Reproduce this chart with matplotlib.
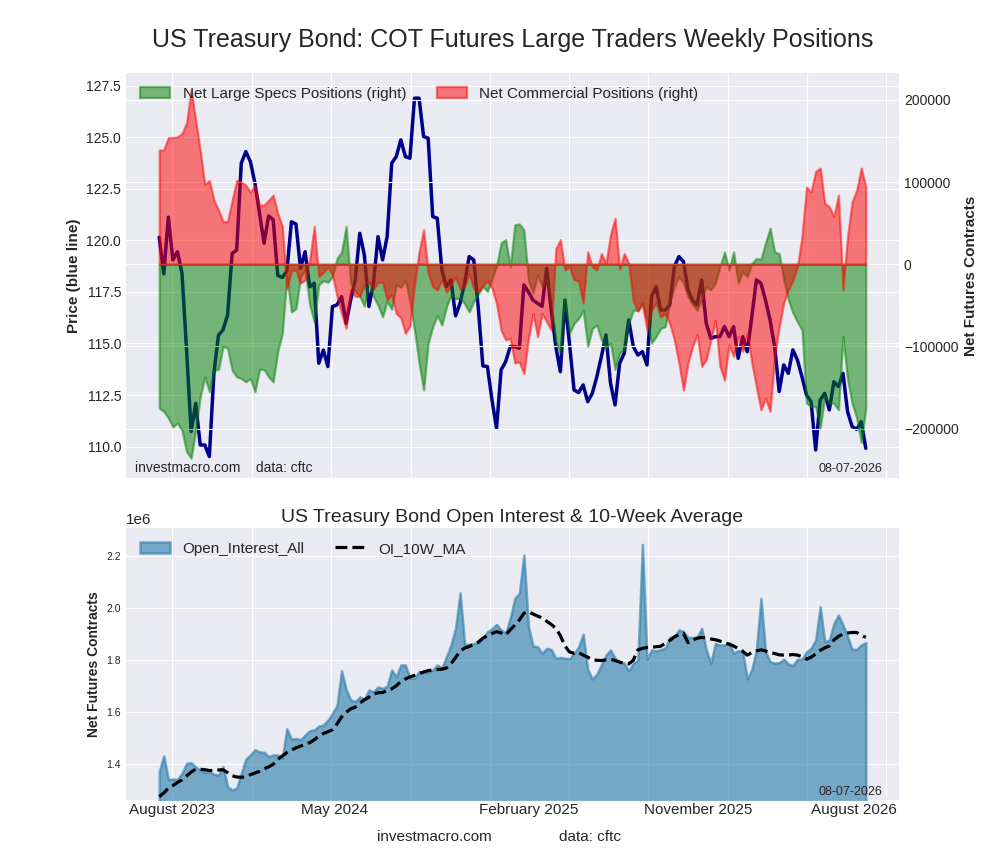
import matplotlib
matplotlib.use('Agg')
import matplotlib.pyplot as plt
import pandas as pd

# ---------------- data ----------------
start_date = '2023-07-12'
n_weeks = 156

price = [120.15, 118.37, 121.12, 119.05, 119.45, 118.40, 114.69, 110.73, 112.10, 110.08,
         110.08, 109.52, 113.56, 115.41, 115.66, 116.38, 119.37, 119.53, 123.74, 124.30,
         123.82, 122.77, 121.31, 119.86, 121.18, 121.00, 118.30, 118.20, 118.50, 120.90,
         120.79, 118.64, 119.45, 117.75, 117.92, 114.04, 114.68, 113.88, 116.79, 116.87,
         117.27, 115.98, 117.11, 118.08, 120.34, 119.29, 116.79, 117.92, 120.18, 119.05,
         120.18, 123.74, 124.06, 124.87, 124.06, 123.98, 126.89, 126.89, 125.03, 124.95,
         121.15, 121.07, 118.57, 117.76, 118.08, 116.34, 116.95, 117.92, 119.21, 119.05,
         116.71, 113.91, 113.88, 112.26, 110.89, 113.72, 114.12, 114.85, 114.85, 114.77,
         117.84, 117.50, 117.10, 116.95, 116.80, 118.64, 116.62, 114.85, 113.63, 117.10,
         115.00, 112.75, 112.62, 112.99, 112.18, 112.58, 113.39, 114.36, 115.41, 113.07,
         112.02, 114.04, 114.52, 116.14, 114.85, 114.44, 114.60, 113.96, 117.27, 117.75,
         116.62, 116.62, 116.87, 118.72, 119.21, 118.97, 117.59, 117.08, 116.87, 118.08,
         115.98, 115.25, 115.33, 115.33, 115.82, 115.33, 115.82, 114.28, 115.33, 114.60,
         116.30, 118.08, 117.92, 117.10, 116.14, 114.85, 112.67, 113.96, 113.55, 114.69,
         114.20, 113.39, 112.50, 112.18, 109.84, 112.26, 112.58, 111.78, 113.15, 112.91,
         113.55, 111.70, 110.97, 110.84, 111.21, 109.92]

net_large_specs = [-175000, -179000, -187000, -198000, -193000, -202000, -228000, -236000, -202000, -161000,
                   -137000, -155000, -129000, -128000, -100000, -102000, -129000, -137000, -139000, -143000,
                   -139000, -155000, -128000, -128000, -137000, -143000, -106000, -84000, -15000, -58000,
                   -54000, -15000, -7000, -49000, -70000, -25000, -20000, -22000, -15000, 7000,
                   15000, 46000, -23000, -33000, -39000, -51000, -23000, -39000, -50000, -64000,
                   -45000, -55000, -25000, -28000, -20000, -45000, -80000, -120000, -153000, -96000,
                   -76000, -62000, -74000, -52000, -37000, -42000, -41000, -48000, -58000, -45000,
                   -36000, -27000, -33000, -18000, -2000, 26000, 30000, -3000, 48000, 49000,
                   42000, -20000, -35000, -13000, -27000, -19000, -47000, -94000, -108000, -43000,
                   -84000, -72000, -66000, -56000, -100000, -78000, -74000, -92000, -102000, -96000,
                   -128000, -108000, -104000, -72000, -56000, -56000, -47000, -68000, -96000, -88000,
                   -78000, -76000, -47000, -27000, -15000, -23000, -39000, -49000, -56000, -43000,
                   -27000, -31000, -23000, -3000, 15000, -7000, 15000, -23000, -9000, -15000,
                   1000, 7000, 6000, 26000, 44000, 15000, 13000, -19000, -43000, -59000,
                   -70000, -80000, -169000, -173000, -173000, -199000, -161000, -169000, -169000, -177000,
                   -88000, -140000, -169000, -187000, -217000, -175000]

net_commercial = [139000, 139000, 154000, 154000, 155000, 159000, 172000, 212000, 175000, 138000,
                  97000, 102000, 78000, 66000, 52000, 52000, 78000, 102000, 100000, 96000,
                  88000, 96000, 72000, 72000, 78000, 84000, 62000, 46000, -30000, -8000,
                  -7000, -23000, -19000, 5000, 46000, -15000, -10000, -3000, -13000, -39000,
                  -60000, -78000, -31000, -39000, -39000, -25000, -21000, -30000, -22000, -22000,
                  -43000, -37000, -60000, -65000, -84000, -75000, -25000, 15000, 42000, -11000,
                  -27000, -31000, -19000, -34000, -25000, -15000, -30000, -27000, -11000, -30000,
                  -34000, -26000, -20000, -29000, -48000, -80000, -92000, -90000, -120000, -119000,
                  -133000, -90000, -60000, -88000, -60000, -70000, -80000, 19000, 30000, -7000,
                  -3000, -19000, -20000, -47000, 15000, -3000, -7000, 13000, 1000, 36000,
                  56000, -6000, 13000, 1000, -45000, -57000, -49000, -80000, -56000, -47000,
                  -64000, -60000, -72000, -92000, -120000, -153000, -120000, -100000, -85000, -124000,
                  -116000, -92000, -68000, -124000, -141000, -98000, -112000, -88000, -106000, -84000,
                  -120000, -149000, -177000, -163000, -179000, -112000, -76000, -47000, -31000, -20000,
                  -3000, 34000, 94000, 88000, 113000, 117000, 74000, 70000, 58000, 84000,
                  -31000, 34000, 76000, 90000, 117000, 94000]

open_interest = [1372000, 1432000, 1342000, 1343000, 1342000, 1365000, 1404000, 1406000, 1390000, 1378000,
                 1368000, 1372000, 1362000, 1358000, 1391000, 1314000, 1301000, 1308000, 1365000, 1420000,
                 1436000, 1456000, 1448000, 1446000, 1430000, 1436000, 1436000, 1424000, 1537000, 1496000,
                 1500000, 1494000, 1513000, 1529000, 1532000, 1547000, 1551000, 1570000, 1596000, 1626000,
                 1760000, 1688000, 1647000, 1641000, 1659000, 1651000, 1686000, 1679000, 1698000, 1692000,
                 1700000, 1763000, 1737000, 1782000, 1782000, 1731000, 1731000, 1757000, 1753000, 1753000,
                 1763000, 1782000, 1770000, 1814000, 1859000, 1923000, 2060000, 1861000, 1861000, 1865000,
                 1867000, 1885000, 1910000, 1922000, 1938000, 1917000, 1904000, 1962000, 2038000, 2058000,
                 2205000, 1929000, 1855000, 1852000, 1827000, 1846000, 1842000, 1808000, 1811000, 1808000,
                 1806000, 1827000, 1852000, 1900000, 1765000, 1728000, 1747000, 1782000, 1820000, 1840000,
                 1808000, 1795000, 1789000, 1759000, 1789000, 1801000, 2246000, 1804000, 1840000, 1836000,
                 1842000, 1846000, 1888000, 1891000, 1917000, 1911000, 1888000, 1888000, 1888000, 1923000,
                 1840000, 1789000, 1865000, 1859000, 1859000, 1868000, 1827000, 1837000, 1833000, 1728000,
                 1765000, 1840000, 2038000, 1833000, 1795000, 1789000, 1791000, 1804000, 1786000, 1780000,
                 1804000, 1804000, 1833000, 1846000, 1878000, 2006000, 1871000, 1878000, 1942000, 1974000,
                 1936000, 1891000, 1842000, 1842000, 1859000, 1868000]

oi_10w_ma = [1275000, 1290000, 1308000, 1318000, 1330000, 1340000, 1355000, 1370000, 1381000, 1381000,
             1379000, 1376000, 1376000, 1378000, 1379000, 1368000, 1356000, 1351000, 1350000, 1352000,
             1360000, 1366000, 1373000, 1382000, 1390000, 1400000, 1418000, 1432000, 1445000, 1455000,
             1463000, 1470000, 1477000, 1483000, 1494000, 1508000, 1518000, 1525000, 1533000, 1555000,
             1582000, 1600000, 1613000, 1620000, 1635000, 1648000, 1658000, 1670000, 1675000, 1676000,
             1683000, 1690000, 1702000, 1718000, 1728000, 1736000, 1742000, 1748000, 1755000, 1760000,
             1763000, 1764000, 1766000, 1770000, 1786000, 1810000, 1835000, 1847000, 1853000, 1862000,
             1870000, 1885000, 1895000, 1903000, 1910000, 1905000, 1898000, 1917000, 1935000, 1955000,
             1981000, 1987000, 1978000, 1970000, 1963000, 1950000, 1938000, 1923000, 1895000, 1855000,
             1832000, 1827000, 1830000, 1820000, 1812000, 1802000, 1800000, 1799000, 1802000, 1804000,
             1799000, 1793000, 1789000, 1786000, 1800000, 1840000, 1846000, 1849000, 1850000, 1852000,
             1854000, 1865000, 1876000, 1890000, 1898000, 1904000, 1868000, 1878000, 1885000, 1888000,
             1886000, 1882000, 1879000, 1874000, 1868000, 1862000, 1855000, 1845000, 1835000, 1820000,
             1830000, 1836000, 1840000, 1836000, 1830000, 1826000, 1821000, 1820000, 1820000, 1822000,
             1820000, 1814000, 1804000, 1812000, 1824000, 1838000, 1848000, 1855000, 1878000, 1892000,
             1901000, 1905000, 1907000, 1907000, 1896000, 1888000]

price_ticks = [110.0, 112.5, 115.0, 117.5, 120.0, 122.5, 125.0, 127.5]
position_ticks = [-200000, -100000, 0, 100000, 200000]
oi_ticks = [1400000, 1600000, 1800000, 2000000, 2200000]
label_dates = ['2023-08-01', '2024-04-06', '2025-01-29', '2025-10-17', '2026-06-13']
label_texts = ['August 2023', 'May 2024', 'February 2025', 'November 2025', 'August 2026']
report_date = '08-07-2026'

# ---------------- figure ----------------
plt.style.use('seaborn-v0_8-darkgrid')
plt.rcParams['font.family'] = ['Liberation Sans', 'DejaVu Sans']

dates = pd.date_range(start_date, periods=n_weeks, freq='7D')
grid_dates = pd.date_range('2023-08-01', '2026-08-01', freq='4MS')
xlim = (dates[0] - pd.Timedelta(days=51), dates[-1] + pd.Timedelta(days=51))

fig = plt.figure(figsize=(10, 8.6), dpi=100)
ax1 = fig.add_axes([0.126, 0.4442, 0.773, 0.4709])
ax2 = ax1.twinx()
ax3 = fig.add_axes([0.126, 0.0698, 0.773, 0.3163])

# top chart
ax1.plot(dates, price, color='darkblue', lw=2.5)
ax2.fill_between(dates, net_large_specs, 0, color='green', alpha=0.5, lw=1.6,
                 label='Net Large Specs Positions (right)')
ax2.fill_between(dates, net_commercial, 0, color='red', alpha=0.5, lw=1.6,
                 label='Net Commercial Positions (right)')

ax1.set_xlim(xlim)
ax1.set_ylim(108.48, 128.11)
ax2.set_ylim(-260000, 232600)
ax1.set_yticks(price_ticks)
ax2.set_yticks(position_ticks)
ax1.set_xticks(grid_dates)
ax1.tick_params(axis='x', labelbottom=False, length=0)
ax1.tick_params(axis='y', labelsize=10)
ax2.tick_params(axis='y', labelsize=10)
ax1.set_ylabel('Price (blue line)', fontsize=11, fontweight='bold')
ax2.set_ylabel('Net Futures Contracts', fontsize=11, fontweight='bold')
ax1.set_title('US Treasury Bond: COT Futures Large Traders Weekly Positions',
              fontsize=18, pad=19)
ax2.legend(loc='upper left', ncol=2, fontsize=11, frameon=False)
ax2.text(0.011, 0.008, 'investmacro.com    data: cftc', transform=ax2.transAxes,
         fontsize=10, ha='left', va='bottom')
ax2.text(0.979, 0.008, report_date, transform=ax2.transAxes,
         fontsize=9, ha='right', va='bottom')

# bottom chart
oi_color = '#287DAA'
ax3.fill_between(dates, open_interest, color=oi_color, alpha=0.6, lw=1.8,
                 label='Open_Interest_All')
ax3.plot(dates, oi_10w_ma, color='black', ls='--', lw=2.3, label='OI_10W_MA')
ax3.set_xlim(xlim)
ax3.set_ylim(1262700, 2309000)
ax3.set_yticks(oi_ticks)
ax3.xaxis.remove_overlapping_locs = False
ax3.set_xticks(grid_dates)
ax3.set_xticklabels([''] * len(grid_dates))
ax3.set_xticks(pd.to_datetime(label_dates), labels=label_texts, minor=True)
ax3.tick_params(axis='x', which='both', length=0)
ax3.tick_params(axis='x', which='minor', labelsize=11, pad=2)
ax3.tick_params(axis='y', labelsize=7.5)
ax3.yaxis.get_offset_text().set_fontsize(11)
ax3.set_ylabel('Net Futures Contracts', fontsize=10, fontweight='bold')
ax3.set_title('US Treasury Bond Open Interest & 10-Week Average', fontsize=14, pad=4)
ax3.legend(loc='upper left', ncol=2, fontsize=11, frameon=False)
ax3.text(0.979, 0.006, report_date, transform=ax3.transAxes,
         fontsize=9, ha='right', va='bottom')

fig.text(0.377, 1 - 837 / 860, 'investmacro.com', fontsize=11, va='center', ha='left')
fig.text(0.559, 1 - 837 / 860, 'data: cftc', fontsize=11, va='center', ha='left')

fig.savefig('out.png', dpi=100)
